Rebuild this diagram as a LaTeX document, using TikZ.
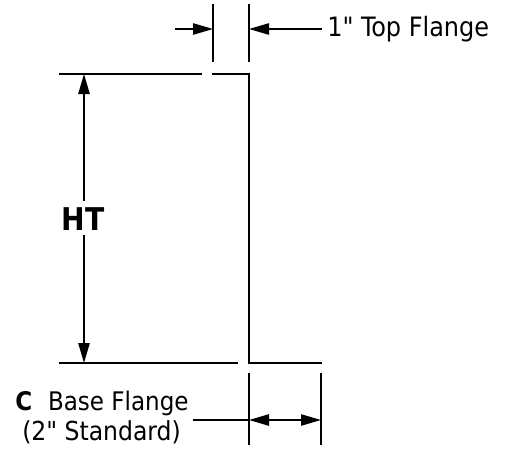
\documentclass[tikz,border=0pt]{standalone}
\usepackage{fontspec}
\newfontfamily\lblf{DejaVu Sans Condensed}
\usetikzlibrary{arrows.meta}
\tikzset{
  dim/.style={line width=1.1pt,black},
  tip/.tip={Triangle[length=15pt,width=8.5pt]},
  arr/.style={dim,{tip}-{tip}},
  arrs/.style={dim,-{tip}},
  prof/.style={line width=2.2pt,black,line join=miter},
  lbl/.style={inner sep=0pt,font=\lblf\fontsize{20}{23}\selectfont,text=black},
  lblb/.style={inner sep=0pt,font=\lblf\fontsize{19.2}{23}\selectfont,text=black},
  lblc/.style={inner sep=0pt,font=\lblf\fontsize{19.6}{23}\selectfont,text=black}
}
\begin{document}
\begin{tikzpicture}[x=0.75pt,y=-0.75pt]
\useasboundingbox (0,0) rectangle (511,451);
\coordinate (p0) at (212,74);
\coordinate (p1) at (249,74);
\coordinate (p2) at (249,363);
\coordinate (p3) at (322,363);
\draw[prof] (p0) -- (p1) -- (p2) -- (p3);
\draw[dim] (213,4) -- (213,62);
\draw[dim] (249,4) -- (249,62);
\coordinate (h1) at (175,29);
\coordinate (h2) at (213,29);
\coordinate (h3) at (249,29);
\coordinate (h4) at (322,29);
\draw[arrs] (h1) -- (h2);
\draw[arrs] (h4) -- (h3);
\node[lbl,anchor=west] (top) at (327,29) {1" Top Flange};
\coordinate (l1) at (59,74);
\coordinate (l2) at (202,74);
\coordinate (l3) at (59,363);
\coordinate (l4) at (238,363);
\draw[dim] (l1) -- (l2);
\draw[dim] (l3) -- (l4);
\node[lbl,font=\lblf\fontsize{23.5}{27}\selectfont\bfseries] (ht) at (83,219) {HT};
\coordinate (a1) at (84,74);
\coordinate (a2) at (84,363);
\coordinate (g1) at (84,201);
\coordinate (g2) at (84,235);
\draw[arrs] (g1) -- (a1);
\draw[arrs] (g2) -- (a2);
\draw[dim] (249,373) -- (249,445);
\draw[dim] (321,373) -- (321,445);
\coordinate (b1) at (249,420);
\coordinate (b2) at (321,420);
\draw[arr] (b1) -- (b2);
\coordinate (b0) at (193,420);
\draw[dim] (b0) -- (b1);
\node[lblb,anchor=west] (c) at (15,403) {\textbf{C}\hspace{0.62em}Base Flange};
\node[lblc,anchor=west] (std) at (22,432) {(2" Standard)};
\end{tikzpicture}
\end{document}
